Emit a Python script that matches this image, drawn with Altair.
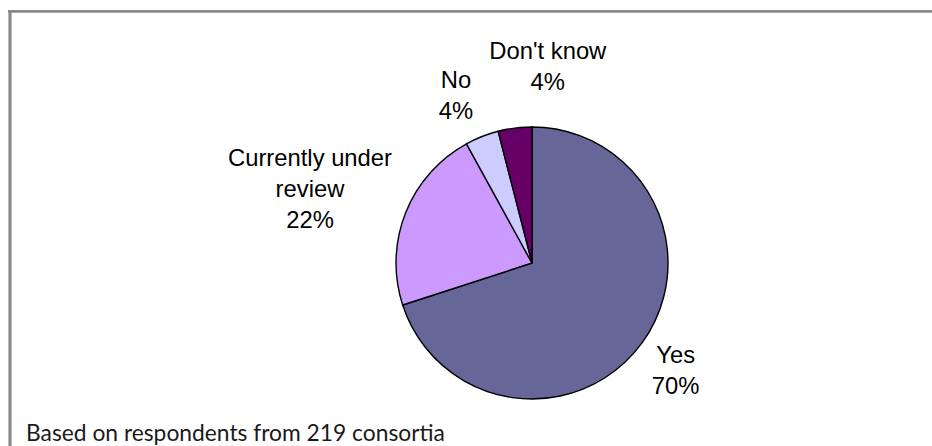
import altair as alt
import pandas as pd

# ---- data ----
categories = ["Yes", "Currently under review", "No", "Don't know"]
name_lines = [["Yes"], ["Currently under", "review"], ["No"], ["Don't know"]]
values = [70, 22, 4, 4]
colors = ["#666699", "#CC99FF", "#CCCCFF", "#660066"]
footnote = "Based on respondents from 219 consortia"

total = sum(values)
df = pd.DataFrame({
    "category": categories,
    "value": values,
    "order": list(range(len(categories))),
    "label": [lines + [f"{v}%"] for lines, v in zip(name_lines, values)],
})

# ---- layout (not data) ----
CX, CY, R = 532, 263, 136
LABEL_RADIUS = 185
LINE_H = 31
label_offsets = {
    "Yes": (-6, 0),
    "Currently under review": (-50, -5),
    "No": (-8, 5.5),
    "Don't know": (39, -11.5),
}
FONT = "Liberation Sans"

theta_scale = alt.Scale(domain=[0, total])
color_enc = alt.Color("category:N", scale=alt.Scale(domain=categories, range=colors), legend=None)

base = alt.Chart(df)

pie = base.mark_arc(stroke="black", strokeWidth=1.4, radius=R).encode(
    theta=alt.Theta("value:Q", stack=True, scale=theta_scale),
    color=color_enc,
    order=alt.Order("order:Q", sort="ascending"),
    x=alt.value(CX),
    y=alt.value(CY),
)

label_layers = []
for cat, lines in zip(categories, name_lines):
    dx, dy = label_offsets[cat]
    n_lines = len(lines) + 1
    dy = dy - (n_lines - 1) * LINE_H / 2  # centre the multi-line block
    lyr = (
        base.transform_window(cum="sum(value)", sort=[alt.SortField("order")])
        .transform_calculate(mid="datum.cum - datum.value / 2")
        .transform_filter(alt.datum.category == cat)
        .mark_text(
            radius=LABEL_RADIUS, dx=dx, dy=dy, font=FONT, fontSize=23.8,
            lineHeight=LINE_H, align="center", baseline="middle", color="black",
        )
        .encode(
            theta=alt.Theta("mid:Q", stack=None, scale=theta_scale),
            text="label",
            x=alt.value(CX),
            y=alt.value(CY),
        )
    )
    label_layers.append(lyr)

frame_df = alt.Chart(pd.DataFrame({"k": [0]}))
top_rule = frame_df.mark_rule(color="#8a8a8a", strokeWidth=2.8).encode(
    x=alt.value(8), x2=alt.value(932), y=alt.value(11.3)
)
left_rule = frame_df.mark_rule(color="#8a8a8a", strokeWidth=3.2).encode(
    x=alt.value(10), y=alt.value(10), y2=alt.value(446)
)

foot = alt.Chart(pd.DataFrame({"t": [footnote]})).mark_text(
    align="left", baseline="alphabetic", font="Lato", fontSize=22.8, color="#1a1a1a"
).encode(x=alt.value(26), y=alt.value(441), text="t:N")

chart = alt.layer(top_rule, left_rule, pie, *label_layers, foot).properties(
    width=932, height=446, padding=0, autosize=alt.AutoSizeParams(type="none"),
    background="white",
).configure_view(stroke=None)

chart.save("out.html", embed_options={"renderer": "svg", "actions": False})
